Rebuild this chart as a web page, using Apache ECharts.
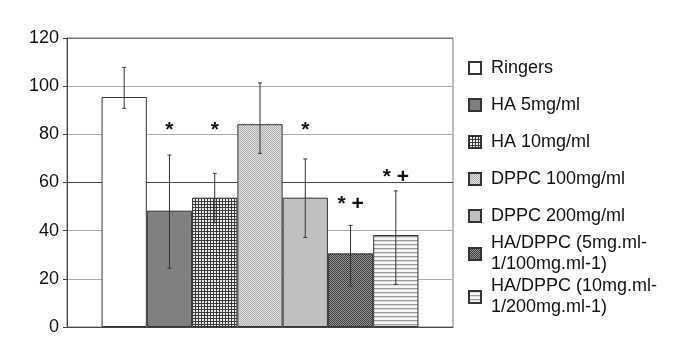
<!DOCTYPE html>
<html>
<head>
<meta charset="utf-8">
<script src="https://cdn.jsdelivr.net/npm/echarts@6/dist/echarts.min.js"></script>
<style>
html,body{margin:0;padding:0;background:#fff;}
#chart{width:678px;height:351px;}
</style>
</head>
<body>
<div id="chart"></div>
<script>
// ---- data ----
var seriesNames = ['Ringers', 'HA 5mg/ml', 'HA 10mg/ml', 'DPPC 100mg/ml', 'DPPC 200mg/ml',
  'HA/DPPC (5mg.ml-\n1/100mg.ml-1)', 'HA/DPPC (10mg.ml-\n1/200mg.ml-1)'];
var means   = [95.5, 48.3, 53.7, 84.2, 53.7, 30.6, 38.2];
var errHigh = [107.8, 71.4, 63.8, 101.3, 69.8, 42.2, 56.5];
var errLow  = [90.8, 24.4, 43.3, 72.1, 37.2, 17.1, 17.7];
var annotText  = ['', '*', '*', '', '*', '* +', '* +'];
var annotLevel = [null, 83.5, 83.5, null, 83.5, 52.7, 64.0];
var yTicks = [0, 20, 40, 60, 80, 100, 120];

// ---- patterns ----
function makePattern(w, h, fn) {
  var c = document.createElement('canvas');
  c.width = w; c.height = h;
  var ctx = c.getContext('2d');
  for (var y = 0; y < h; y++) for (var x = 0; x < w; x++) {
    ctx.fillStyle = fn(x, y);
    ctx.fillRect(x, y, 1, 1);
  }
  return { image: c, repeat: 'repeat' };
}
var fills = [
  '#ffffff',
  '#808080',
  makePattern(3, 3, function (x, y) { return (x === 0 || y === 0) ? '#3a3a3a' : '#ececec'; }),
  makePattern(2, 2, function (x, y) { return ((x + y) % 2 === 0) ? '#b0b0b0' : '#dedede'; }),
  '#c0c0c0',
  makePattern(2, 2, function (x, y) { return ((x + y) % 2 === 0) ? '#3e3e3e' : '#959595'; }),
  makePattern(4, 4, function (x, y) { return y === 0 ? '#9a9a9a' : (y === 1 ? ((x % 2) ? '#cfcfcf' : '#e8e8e8') : '#f7f7f7'); })
];

var FONT = "'Liberation Sans', Arial, sans-serif";
var GAP = 0.179;
var N = seriesNames.length;

var series = seriesNames.map(function (name, i) {
  return {
    name: name,
    type: 'bar',
    data: [means[i]],
    barGap: 0,
    barCategoryGap: (GAP * 100) + '%',
    itemStyle: { color: fills[i], borderColor: '#333', borderWidth: 1 },
    emphasis: { disabled: true },
    z: 2
  };
});

var errData = means.map(function (m, i) {
  return [0, errLow[i], errHigh[i], i, annotLevel[i] == null ? errHigh[i] : annotLevel[i]];
});

series.push({
  type: 'custom',
  name: 'err',
  z: 5,
  silent: true,
  encode: { x: 0, y: [1, 2] },
  data: errData,
  renderItem: function (params, api) {
    var idx = api.value(3);
    var base = api.coord([0, 0]);
    var bandW = api.size([1, 0])[0];
    var barW = bandW * (1 - GAP) / N;
    var cx = base[0] + (idx - (N - 1) / 2) * barW;
    var pLow = api.coord([0, api.value(1)]);
    var pHigh = api.coord([0, api.value(2)]);
    var st = { stroke: '#333', lineWidth: 1 };
    var cap = 2;
    var children = [
      { type: 'line', shape: { x1: cx, y1: pLow[1], x2: cx, y2: pHigh[1] }, style: st },
      { type: 'line', shape: { x1: cx - cap, y1: pLow[1], x2: cx + cap, y2: pLow[1] }, style: st },
      { type: 'line', shape: { x1: cx - cap, y1: pHigh[1], x2: cx + cap, y2: pHigh[1] }, style: st }
    ];
    var t = annotText[idx];
    if (t) {
      var pa = api.coord([0, api.value(4)]);
      children.push({
        type: 'text',
        style: { text: t, x: cx, y: pa[1] + 4, align: 'center', verticalAlign: 'middle',
          fill: '#111', font: 'bold 21px ' + FONT }
      });
    }
    return { type: 'group', children: children };
  }
});

var legendCommon = {
  orient: 'vertical',
  left: 468,
  padding: 0,
  icon: 'rect',
  itemWidth: 12,
  itemHeight: 12,
  selectedMode: false,
  textStyle: { fontFamily: FONT, fontSize: 18, color: '#111', lineHeight: 21, padding: [0, 0, 0, 5] }
};

var option = {
  animation: false,
  backgroundColor: '#fff',
  grid: { left: 67, right: 225, top: 38, bottom: 24, show: true, borderColor: '#777', borderWidth: 1 },
  legend: [
    Object.assign({}, legendCommon, { top: 57.5, itemGap: 16, data: seriesNames.slice(0, 5) }),
    Object.assign({}, legendCommon, { top: 233, itemGap: 1, data: seriesNames.slice(5) })
  ],
  xAxis: {
    type: 'category',
    data: [''],
    axisLine: { show: true, lineStyle: { color: '#444', width: 1 } },
    axisTick: { show: false },
    axisLabel: { show: false }
  },
  yAxis: {
    type: 'value',
    min: yTicks[0],
    max: yTicks[yTicks.length - 1],
    interval: 20,
    axisLine: { show: true, lineStyle: { color: '#444', width: 1 } },
    axisTick: { show: true, length: 4, lineStyle: { color: '#444' } },
    axisLabel: { fontFamily: FONT, fontSize: 18, color: '#111', margin: 8 },
    splitLine: { show: true, lineStyle: { color: ['#aaa', '#aaa', '#aaa', '#444', '#aaa', '#aaa', '#777'], width: 1 } }
  },
  series: series
};

var chart = echarts.init(document.getElementById('chart'), null, { renderer: 'canvas' });
chart.setOption(option);
</script>
</body>
</html>
